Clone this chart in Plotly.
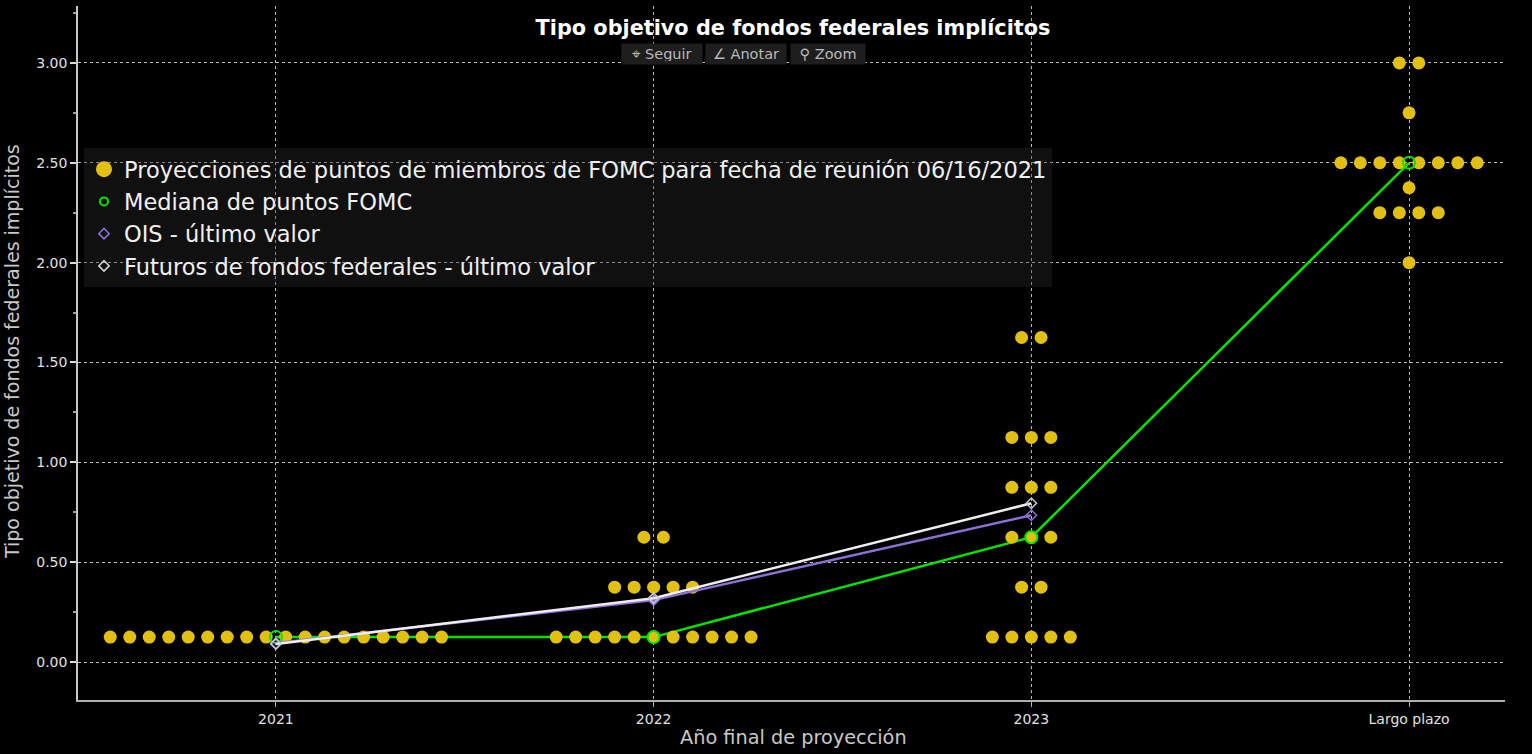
import plotly.graph_objects as go

# ---------------- data ----------------
categories = ["2021", "2022", "2023", "Largo plazo"]

# FOMC dot plot (06/16/2021): levels and number of participants at each level
dots_2021_levels = [0.125]
dots_2021_counts = [18]
dots_2022_levels = [0.125, 0.375, 0.625]
dots_2022_counts = [11, 5, 2]
dots_2023_levels = [0.125, 0.375, 0.625, 0.875, 1.125, 1.625]
dots_2023_counts = [5, 2, 3, 3, 3, 2]
dots_lr_levels = [2.0, 2.25, 2.375, 2.5, 2.75, 3.0]
dots_lr_counts = [1, 4, 1, 8, 1, 2]

median_values = [0.125, 0.125, 0.625, 2.5]
ois_values = [0.095, 0.31, 0.735]
futures_values = [0.09, 0.32, 0.795]

y_ticks = [0.0, 0.5, 1.0, 1.5, 2.0, 2.5, 3.0]

# ---------------- styling ----------------
YELLOW = "rgb(226,192,18)"
GREEN = "rgb(0,228,0)"
PURPLE = "rgb(140,112,212)"
WHITE = "rgb(238,238,238)"
FONT = "DejaVu Sans, Verdana, sans-serif"
DOT_SPACING = 0.0516  # horizontal spacing between stacked dots (x units)

# build dot positions (centered beeswarm per level)
dot_groups = [
    (dots_2021_levels, dots_2021_counts),
    (dots_2022_levels, dots_2022_counts),
    (dots_2023_levels, dots_2023_counts),
    (dots_lr_levels, dots_lr_counts),
]
dot_x, dot_y = [], []
for ci, (levels, counts) in enumerate(dot_groups):
    for lvl, n in zip(levels, counts):
        for j in range(n):
            dot_x.append(ci + (j - (n - 1) / 2) * DOT_SPACING)
            dot_y.append(lvl)

xpos = list(range(len(categories)))

fig = go.Figure()

# green median line (under the dots)
fig.add_trace(go.Scatter(x=xpos, y=median_values, mode="lines",
                         line=dict(color=GREEN, width=2.5), showlegend=False,
                         hoverinfo="skip"))
# dots
fig.add_trace(go.Scatter(x=dot_x, y=dot_y, mode="markers",
                         marker=dict(color=YELLOW, size=13, line=dict(width=0)),
                         showlegend=False))
# median markers
fig.add_trace(go.Scatter(x=xpos, y=median_values, mode="markers",
                         marker=dict(symbol="circle-open", color=GREEN, size=12,
                                     line=dict(width=2, color=GREEN)),
                         showlegend=False))
# OIS
fig.add_trace(go.Scatter(x=xpos[:3], y=ois_values, mode="lines+markers",
                         line=dict(color=PURPLE, width=2.5),
                         marker=dict(symbol="diamond-open", size=8, color=PURPLE,
                                     line=dict(width=1.5, color=PURPLE)),
                         showlegend=False))
# Fed funds futures
fig.add_trace(go.Scatter(x=xpos[:3], y=futures_values, mode="lines+markers",
                         line=dict(color=WHITE, width=2.5),
                         marker=dict(symbol="diamond-open", size=8, color="rgb(200,200,215)",
                                     line=dict(width=1.5, color="rgb(200,200,215)")),
                         showlegend=False))

# legend entries
fig.add_trace(go.Scatter(x=[None], y=[None], mode="markers",
                         name="Proyecciones de puntos de miembros de FOMC para fecha de reunión 06/16/2021",
                         marker=dict(color=YELLOW, size=16)))
fig.add_trace(go.Scatter(x=[None], y=[None], mode="markers",
                         name="Mediana de puntos FOMC",
                         marker=dict(symbol="circle-open", color=GREEN, size=8,
                                     line=dict(width=2, color=GREEN))))
fig.add_trace(go.Scatter(x=[None], y=[None], mode="markers",
                         name="OIS - último valor",
                         marker=dict(symbol="diamond-open", color=PURPLE, size=8,
                                     line=dict(width=1.5, color=PURPLE))))
fig.add_trace(go.Scatter(x=[None], y=[None], mode="markers",
                         name="Futuros de fondos federales - último valor",
                         marker=dict(symbol="diamond-open", color="rgb(210,210,210)", size=8,
                                     line=dict(width=1.5, color="rgb(210,210,210)"))))

# plot area in pixels
L, R, T, B = 78, 1505, 6, 700
W, H = 1532, 754


def px(xp):
    return (xp - L) / (R - L)


def py(yp):
    return (B - yp) / (B - T)


annotations = [
    dict(text="Tipo objetivo de fondos federales implícitos", textangle=-90,
         xref="paper", yref="paper", x=px(12), y=py(352), xanchor="center",
         yanchor="middle", showarrow=False,
         font=dict(family=FONT, size=19, color="rgb(200,200,200)")),
    dict(text="Año final de proyección", xref="paper", yref="paper",
         x=px(793), y=py(737), xanchor="center", yanchor="middle", showarrow=False,
         font=dict(family=FONT, size=19.3, color="rgb(200,200,200)")),
]
for label, cx, w in [("⌖ Seguir", 662, 74), ("∠ Anotar", 746, 74), ("⚲ Zoom", 828, 68)]:
    annotations.append(dict(text=label, xref="paper", yref="paper", x=px(cx), y=py(54),
                            xanchor="center", yanchor="middle", showarrow=False,
                            width=w, height=14, align="center",
                            bgcolor="rgb(30,30,30)", borderpad=3,
                            font=dict(family=FONT, size=14.5, color="rgb(185,185,185)")))

fig.update_layout(
    width=W, height=H,
    paper_bgcolor="black", plot_bgcolor="black",
    margin=dict(l=L, r=W - R, t=T, b=H - B),
    title=dict(text="<b>Tipo objetivo de fondos federales implícitos</b>",
               x=793 / W, y=1 - 28 / H, xanchor="center", yanchor="middle",
               font=dict(family="DejaVu Sans, sans-serif", size=20.8, color="white")),
    font=dict(family=FONT, color="rgb(225,225,225)", size=14),
    legend=dict(x=px(84), y=py(148), xanchor="left", yanchor="top",
                bgcolor="rgba(45,45,45,0.35)", borderwidth=0,
                font=dict(family=FONT, size=22.5, color="rgb(240,240,240)"),
                tracegroupgap=0),
    annotations=annotations,
    xaxis=dict(range=[-0.524, 3.254], tickvals=xpos, ticktext=categories,
               showgrid=True, gridcolor="rgb(185,185,185)", griddash="dot", gridwidth=1,
               zeroline=False, showline=True, linecolor="rgb(175,175,175)", linewidth=2,
               ticks="outside", ticklen=5, tickcolor="rgb(175,175,175)",
               tickfont=dict(family=FONT, size=14, color="rgb(225,225,225)")),
    yaxis=dict(range=[-0.19, 3.285], tickvals=y_ticks, tickformat=".2f",
               showgrid=True, gridcolor="rgb(185,185,185)", griddash="dot", gridwidth=1,
               zeroline=False, showline=True, linecolor="rgb(200,200,200)", linewidth=1.5,
               ticks="outside", ticklen=6, tickwidth=2, tickcolor="rgb(220,220,220)",
               minor=dict(dtick=0.25, ticks="outside", ticklen=3, tickcolor="rgb(160,160,160)",
                          showgrid=False),
               tickfont=dict(family=FONT, size=14, color="rgb(225,225,225)")),
    showlegend=True,
)

fig.write_html("out.html", config={"displayModeBar": False},
               post_script="document.body.style.margin='0';document.body.style.overflow='hidden';")
